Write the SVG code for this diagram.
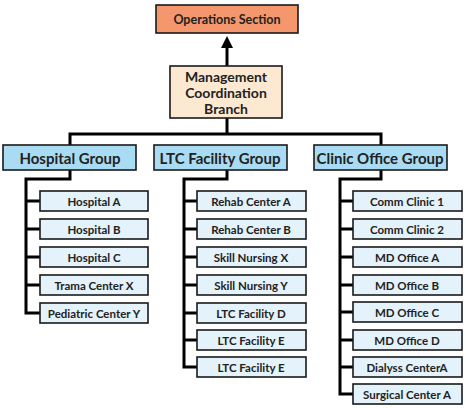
<svg xmlns="http://www.w3.org/2000/svg" width="466" height="408" viewBox="0 0 466 408">
<defs>
<style>
text{font-family:Lato,"Open Sans","Liberation Sans",sans-serif;fill:#222;text-anchor:middle;dominant-baseline:central;font-weight:bold}
.ops rect{fill:#F4976C;stroke:#1a1a1a;stroke-width:1.6}
.ops text{font-size:12.5px}
.mgmt rect{fill:#FDE9D2;stroke:#1a1a1a;stroke-width:1.6}
.mgmt text{font-size:14px}
.grp rect{fill:#A9DCF2;stroke:#1a1a1a;stroke-width:1.6}
.grp text{font-size:15px}
.leaf rect{fill:#E4F2FB;stroke:#1a1a1a;stroke-width:1.6}
.leaf text{font-size:11.5px}
.conn{fill:none;stroke:#000;stroke-width:3}
</style>
<marker id="ah" viewBox="0 0 10 10" refX="5" refY="5" markerWidth="4" markerHeight="4" orient="auto">
<path d="M0,0 L10,5 L0,10 z" fill="#000"/>
</marker>
</defs>
<g id="connectors">
<line class="conn" x1="227" y1="66" x2="227" y2="42" marker-end="url(#ah)"/>
<path class="conn" d="M227,118 V134 M70,145 V134 H381 V145"/>
<path class="conn" d="M70,170 V179 H26 V313 H40 M26,201 H40 M26,229 H40 M26,257 H40 M26,285 H40"/>
<path class="conn" d="M227,170 V179 H184 V367 H197 M184,201 H197 M184,229 H197 M184,257 H197 M184,285 H197 M184,313 H197 M184,340 H197"/>
<path class="conn" d="M381,170 V179 H340 V394 H353 M340,201 H353 M340,229 H353 M340,257 H353 M340,285 H353 M340,312 H353 M340,340 H353 M340,367 H353"/>
</g>
<g id="operations" class="ops"><rect x="156" y="5" width="142" height="28"/><text x="227" y="19">Operations Section</text></g>
<g id="management" class="mgmt"><rect x="170" y="66" width="112" height="52"/>
<text x="226" y="76">Management</text>
<text x="226" y="92">Coordination</text>
<text x="226" y="108">Branch</text></g>
<g id="hospital-group" class="grp"><rect x="3" y="145" width="133" height="25"/><text x="70" y="157.5">Hospital Group</text></g>
<g id="ltc-group" class="grp"><rect x="154" y="145" width="133" height="25"/><text x="220" y="157.5">LTC Facility Group</text></g>
<g id="clinic-group" class="grp"><rect x="314" y="145" width="133" height="25"/><text x="380" y="157.5">Clinic Office Group</text></g>
<g id="hospital-a" class="leaf"><rect x="40" y="191" width="108" height="20"/><text x="94" y="201">Hospital A</text></g>
<g id="hospital-b" class="leaf"><rect x="40" y="219" width="108" height="20"/><text x="94" y="229">Hospital B</text></g>
<g id="hospital-c" class="leaf"><rect x="40" y="247" width="108" height="20"/><text x="94" y="257">Hospital C</text></g>
<g id="trama-center-x" class="leaf"><rect x="40" y="275" width="108" height="20"/><text x="94" y="285">Trama Center X</text></g>
<g id="pediatric-center-y" class="leaf"><rect x="40" y="303" width="108" height="20"/><text x="94" y="313">Pediatric Center Y</text></g>
<g id="rehab-center-a" class="leaf"><rect x="197" y="191" width="109" height="20"/><text x="251" y="201">Rehab Center A</text></g>
<g id="rehab-center-b" class="leaf"><rect x="197" y="219" width="109" height="20"/><text x="251" y="229">Rehab Center B</text></g>
<g id="skill-nursing-x" class="leaf"><rect x="197" y="247" width="109" height="20"/><text x="251" y="257">Skill Nursing X</text></g>
<g id="skill-nursing-y" class="leaf"><rect x="197" y="275" width="109" height="20"/><text x="251" y="285">Skill Nursing Y</text></g>
<g id="ltc-facility-d" class="leaf"><rect x="197" y="303" width="109" height="20"/><text x="251" y="313">LTC Facility D</text></g>
<g id="ltc-facility-e" class="leaf"><rect x="197" y="330" width="109" height="20"/><text x="251" y="340">LTC Facility E</text></g>
<g id="ltc-facility-e2" class="leaf"><rect x="197" y="357" width="109" height="20"/><text x="251" y="367">LTC Facility E</text></g>
<g id="comm-clinic-1" class="leaf"><rect x="353" y="191" width="109" height="20"/><text x="407" y="201">Comm Clinic 1</text></g>
<g id="comm-clinic-2" class="leaf"><rect x="353" y="219" width="109" height="20"/><text x="407" y="229">Comm Clinic 2</text></g>
<g id="md-office-a" class="leaf"><rect x="353" y="247" width="109" height="20"/><text x="407" y="257">MD Office A</text></g>
<g id="md-office-b" class="leaf"><rect x="353" y="275" width="109" height="20"/><text x="407" y="285">MD Office B</text></g>
<g id="md-office-c" class="leaf"><rect x="353" y="302" width="109" height="20"/><text x="407" y="312">MD Office C</text></g>
<g id="md-office-d" class="leaf"><rect x="353" y="330" width="109" height="20"/><text x="407" y="340">MD Office D</text></g>
<g id="dialyss-center-a" class="leaf"><rect x="353" y="357" width="109" height="20"/><text x="407" y="367">Dialyss CenterA</text></g>
<g id="surgical-center-a" class="leaf"><rect x="353" y="384" width="109" height="20"/><text x="407" y="394">Surgical Center A</text></g>
</svg>
